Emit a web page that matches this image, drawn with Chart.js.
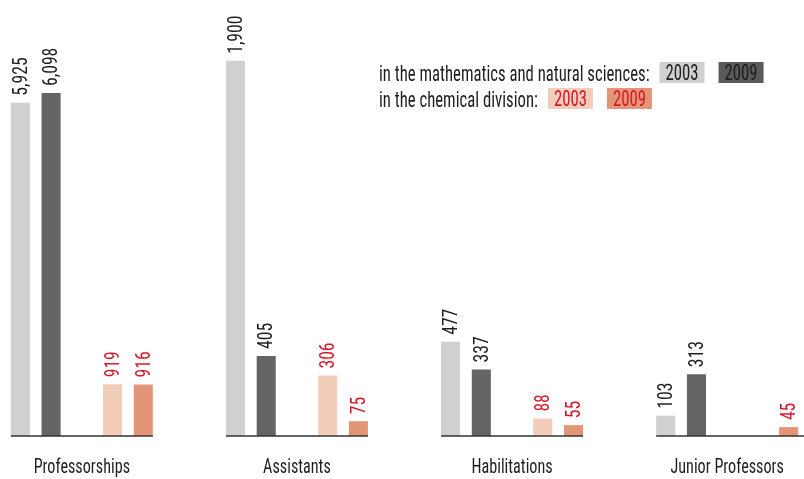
<!DOCTYPE html>
<html><head><meta charset="utf-8">
<script src="https://cdn.jsdelivr.net/npm/chart.js@4.4.1/dist/chart.umd.min.js"></script>
<style>html,body{margin:0;padding:0;background:#fff;overflow:hidden}#wrap{position:relative;width:804px;height:479px}</style>
</head><body><div id="wrap"><canvas id="c" width="804" height="479"></canvas></div>
<script>
const groups = ['Professorships', 'Assistants', 'Habilitations', 'Junior Professors'];
const math2003 = [5925, 1900, 477, 103];
const math2009 = [6098, 405, 337, 313];
const chem2003 = [919, 306, 88, null];
const chem2009 = [916, 75, 55, 45];
const years = ['2003', '2009'];
const legendMath = 'in the mathematics and natural sciences:';
const legendChem = 'in the chemical division:';

const FONT = '"Roboto Condensed", "Liberation Sans Narrow", "DejaVu Sans Condensed", sans-serif';
const kindColors = ['#cfd0d2', '#636466', null, '#f2cdb9', '#e39677'];
const RED = '#d7182a', INK = '#1e1e1e';

// slot layout: 5 slots per group (slot 2 empty), 2 spacer slots between groups
const labels = [], profData = [], otherData = [], slotKind = [];
groups.forEach((g, gi) => {
  const vals = [math2003[gi], math2009[gi], null, chem2003[gi], chem2009[gi]];
  const n = gi === groups.length - 1 ? 5 : 7;
  for (let s = 0; s < n; s++) {
    labels.push(s === 2 ? g : '');
    const v = s < 5 ? vals[s] : null;
    profData.push(gi === 0 ? v : null);
    otherData.push(gi === 0 ? null : v);
    slotKind.push(s < 5 ? s : -1);
  }
});

function squeezedText(ctx, text, x, y, sx, align) {
  ctx.save();
  ctx.translate(x, y);
  ctx.scale(sx, 1);
  ctx.textAlign = align || 'left';
  ctx.fillText(text, 0, 0);
  ctx.restore();
}

const valueLabels = {
  id: 'valueLabels',
  afterDatasetsDraw(chart) {
    const ctx = chart.ctx;
    chart.data.datasets.forEach((ds, di) => {
      const meta = chart.getDatasetMeta(di);
      meta.data.forEach((bar, i) => {
        const v = ds.data[i];
        if (v == null) return;
        const k = slotKind[i];
        ctx.save();
        ctx.translate(bar.x + 1, bar.y - 7);
        ctx.rotate(-Math.PI / 2);
        ctx.scale(0.84, 1);
        ctx.font = '21px ' + FONT;
        ctx.fillStyle = k >= 3 ? RED : INK;
        ctx.textAlign = 'left';
        ctx.textBaseline = 'middle';
        ctx.fillText(v.toLocaleString('en-US'), 0, 0);
        ctx.restore();
      });
    });
  }
};

const groupAxis = {
  id: 'groupAxis',
  afterDatasetsDraw(chart) {
    const ctx = chart.ctx, xs = chart.scales.x;
    const slotW = xs.width / labels.length;
    const bw = slotW * 0.62;
    const y = chart.chartArea.bottom;
    ctx.save();
    ctx.strokeStyle = '#333';
    ctx.lineWidth = 1.6;
    ctx.font = '21px ' + FONT;
    ctx.fillStyle = INK;
    ctx.textBaseline = 'alphabetic';
    let idx = 0;
    groups.forEach((g, gi) => {
      const x0 = xs.getPixelForValue(idx) - bw / 2;
      const x1 = gi === groups.length - 1 ? chart.chartArea.right : xs.getPixelForValue(idx + 4) + bw / 2;
      ctx.beginPath();
      ctx.moveTo(x0, y);
      ctx.lineTo(x1, y);
      ctx.stroke();
      squeezedText(ctx, labels[idx + 2], xs.getPixelForValue(idx + 2), y + 37, 0.77, 'center');
      idx += 7;
    });
    ctx.restore();
  }
};

const boxLegend = {
  id: 'boxLegend',
  afterDraw(chart) {
    const ctx = chart.ctx;
    const sx = 0.76;
    ctx.save();
    ctx.font = '22px ' + FONT;
    ctx.textBaseline = 'alphabetic';
    const rows = [
      {text: legendMath, y: 81, boxes: [['#cfd0d2', INK], ['#595a5c', INK]]},
      {text: legendChem, y: 107, boxes: [['#f2cdb9', RED], ['#e39677', RED]]}
    ];
    rows.forEach(r => {
      const x = 379;
      ctx.fillStyle = INK;
      squeezedText(ctx, r.text, x, r.y, sx);
      let bx = x + ctx.measureText(r.text).width * sx + 10;
      r.boxes.forEach((b, i) => {
        const tw = ctx.measureText(years[i]).width * sx;
        const w = tw + 12;
        ctx.fillStyle = b[0];
        ctx.fillRect(bx, r.y - 19, w, 21);
        ctx.fillStyle = b[1];
        squeezedText(ctx, years[i], bx + w / 2, r.y - 1, sx, 'center');
        bx += w + 14;
      });
    });
    ctx.restore();
  }
};

const colorFn = c => kindColors[slotKind[c.dataIndex]] || 'transparent';

new Chart(document.getElementById('c'), {
  type: 'bar',
  data: {
    labels: labels,
    datasets: [
      {data: profData, yAxisID: 'y1', grouped: false, backgroundColor: colorFn, barPercentage: 0.62, categoryPercentage: 1},
      {data: otherData, yAxisID: 'y2', grouped: false, backgroundColor: colorFn, barPercentage: 0.62, categoryPercentage: 1}
    ]
  },
  options: {
    responsive: false,
    animation: false,
    layout: {padding: {left: 5, right: 0, top: 0, bottom: 0}},
    plugins: {legend: {display: false}, tooltip: {enabled: false}},
    scales: {
      x: {
        offset: true,
        grid: {display: false, drawTicks: false},
        border: {display: false},
        ticks: {display: false},
        afterFit: a => { a.height = 43; }
      },
      y1: {display: false, min: 0, max: 7751},
      y2: {display: false, min: 0, max: 2208}
    }
  },
  plugins: [valueLabels, groupAxis, boxLegend]
});
</script>
</body></html>
